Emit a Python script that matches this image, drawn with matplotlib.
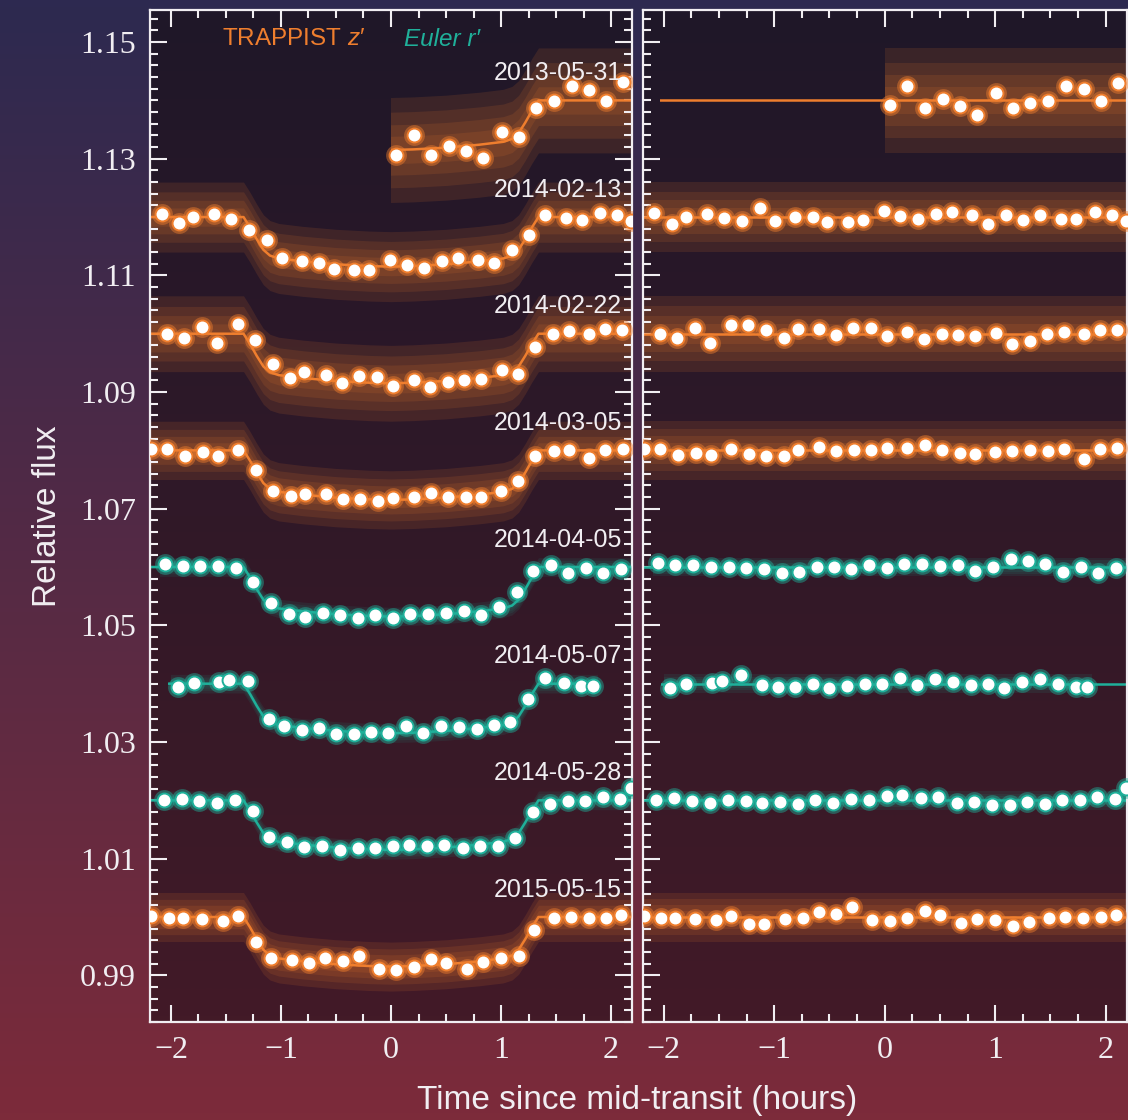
"""
WASP transit light curves: raw/binned fluxes (left) and residuals (right).
"""
import numpy as np
import matplotlib.pyplot as plt
from matplotlib.colors import LinearSegmentedColormap
from matplotlib.patches import Rectangle
from matplotlib.ticker import MultipleLocator, FixedLocator, FormatStrFormatter

#=== Style ===
plt.rcParams['mathtext.fontset'] = 'custom'
plt.rcParams['mathtext.rm'] = 'Liberation Sans'
plt.rcParams['mathtext.it'] = 'Liberation Sans:italic'

ORANGE = '#ef7e2e'
TEAL = '#1fb09a'
TEAL_RAW = '#1f8f7d'
FG = '#f1eef2'

#=== Data: one night per row, binned points ===
DATES = ["2013-05-31", "2014-02-13", "2014-02-22", "2014-03-05",
         "2014-04-05", "2014-05-07", "2014-05-28", "2015-05-15"]
BASELINES = [1.14, 1.12, 1.10, 1.08, 1.06, 1.04, 1.02, 1.00]
INSTRUMENT = ["T", "T", "T", "T", "E", "E", "E", "T"]   # T = TRAPPIST z', E = Euler r'

# time range covered by the raw photometry (hours)
RAW_SPAN = [(0.0, 2.3), (-2.3, 2.3), (-2.3, 2.3), (-2.3, 2.3),
            (-2.1, 2.3), (-2.0, 1.87), (-2.1, 2.3), (-2.3, 2.3)]
# spread of the raw points around the model (core, outer), in ppt
RAW_SPREAD = [(4.5, 9.0), (3.0, 6.0), (3.0, 6.5), (2.5, 5.0),
              (0.8, 1.6), (0.8, 1.6), (0.8, 1.6), (2.0, 4.2)]
# where the model line is drawn, left and right panel
LINE_LEFT = [(0.0, 2.3), (-2.3, 2.3), (-2.3, 2.3), (-2.3, 2.3),
             (-2.3, 2.3), (-2.03, 1.88), (-2.3, 2.3), (-2.3, 2.3)]
LINE_RIGHT = [(-2.03, 2.3), (-2.3, 2.3), (-2.3, 2.3), (-2.3, 2.3),
              (-2.3, 2.3), (-2.02, 2.3), (-2.3, 2.3), (-2.3, 2.3)]

# transit model shape (dip below baseline, ppt)
MODEL_T = [-2.3, -1.34, -1.28, -1.22, -1.16, -1.10, -1.02, -0.8, -0.5, -0.2, 0.0,
           0.2, 0.5, 0.8, 1.02, 1.10, 1.16, 1.22, 1.28, 1.34, 2.3]
MODEL_DIP = [0.0, 0.0, -1.8, -3.8, -5.6, -6.6, -7.1, -7.6, -8.1, -8.4, -8.5,
             -8.4, -8.1, -7.6, -7.1, -6.6, -5.6, -3.8, -1.8, 0.0, 0.0]

# 2013-05-31
t_130531 = [0.045, 0.206, 0.364, 0.530, 0.682, 0.833, 1.006, 1.161, 1.318, 1.479, 1.642, 1.803, 1.955, 2.112]
f_130531 = [1.1307, 1.1340, 1.1306, 1.1322, 1.1313, 1.1302, 1.1346, 1.1338, 1.1387, 1.1399, 1.1425, 1.1418, 1.1399, 1.1431]
r_130531 = [-0.86, 2.40, -1.26, 0.29, -0.97, -2.57, 1.26, -1.26, -0.40, -0.06, 2.46, 1.89, -0.11, 3.03]

# 2014-02-13
t_140213 = [-2.085, -1.924, -1.797, -1.606, -1.455, -1.294, -1.130, -0.991, -0.809, -0.652, -0.521, -0.333, -0.197, -0.006,
            0.142, 0.303, 0.461, 0.606, 0.794, 0.939, 1.097, 1.252, 1.403, 1.591, 1.733, 1.900, 2.055, 2.182]
f_140213 = [1.1206, 1.1189, 1.1200, 1.1205, 1.1197, 1.1177, 1.1161, 1.1129, 1.1125, 1.1122, 1.1111, 1.1109, 1.1110, 1.1126,
            1.1117, 1.1113, 1.1124, 1.1129, 1.1127, 1.1121, 1.1143, 1.1170, 1.1203, 1.1199, 1.1195, 1.1207, 1.1203, 1.1193]
r_140213 = [0.74, -1.14, 0.0, 0.57, -0.17, -0.74, 1.54, -0.69, -0.06, -0.06, -0.86, -0.86, -0.57, 1.03,
            0.11, -0.29, 0.57, 0.80, 0.29, -1.14, 0.29, -0.57, 0.40, -0.29, -0.40, 0.86, 0.40, -0.74]

# 2014-02-22
t_140222 = [-2.036, -1.879, -1.721, -1.582, -1.394, -1.233, -1.076, -0.915, -0.788, -0.591, -0.445, -0.288, -0.127, 0.021,
            0.206, 0.355, 0.515, 0.667, 0.818, 1.006, 1.152, 1.312, 1.470, 1.621, 1.803, 1.945, 2.100]
f_140222 = [1.1000, 1.0993, 1.1011, 1.0984, 1.1017, 1.0989, 1.0948, 1.0924, 1.0934, 1.0930, 1.0915, 1.0927, 1.0925, 1.0911,
            1.0920, 1.0908, 1.0918, 1.0920, 1.0922, 1.0937, 1.0931, 1.0978, 1.1000, 1.1004, 1.0999, 1.1008, 1.1006]
r_140222 = [0.0, -0.74, 0.97, -1.60, 1.54, 1.54, 0.69, -0.74, 0.86, 0.74, -0.29, 0.97, 0.97, -0.46,
            0.29, -0.97, -0.11, -0.17, -0.46, 0.17, -1.77, -1.20, 0.0, 0.29, -0.11, 0.57, 0.57]

# 2014-03-05
t_140305 = [-2.180, -2.036, -1.870, -1.712, -1.576, -1.388, -1.227, -1.070, -0.909, -0.782, -0.591, -0.439, -0.279, -0.121,
            0.021, 0.206, 0.364, 0.521, 0.682, 0.818, 1.000, 1.152, 1.312, 1.479, 1.621, 1.803, 1.948, 2.106]
f_140305 = [1.0803, 1.0802, 1.0791, 1.0797, 1.0791, 1.0801, 1.0767, 1.0730, 1.0722, 1.0726, 1.0725, 1.0717, 1.0717, 1.0714,
            1.0719, 1.0720, 1.0727, 1.0720, 1.0720, 1.0720, 1.0731, 1.0747, 1.0790, 1.0799, 1.0800, 1.0787, 1.0800, 1.0803]
r_140305 = [0.30, 0.17, -0.86, -0.40, -0.86, 0.17, -0.57, -0.97, -0.97, 0.0, 0.57, -0.17, 0.11, 0.0,
            0.40, 0.40, 0.97, 0.0, -0.40, -0.69, -0.29, -0.17, 0.11, -0.17, 0.17, -1.43, 0.17, 0.40]

# 2014-04-05
t_140405 = [-2.055, -1.894, -1.733, -1.570, -1.409, -1.252, -1.091, -0.930, -0.779, -0.615, -0.461, -0.303, -0.142, 0.021,
            0.176, 0.339, 0.500, 0.661, 0.818, 0.979, 1.142, 1.294, 1.455, 1.612, 1.773, 1.930, 2.091]
f_140405 = [1.0605, 1.0602, 1.0602, 1.0601, 1.0599, 1.0575, 1.0538, 1.0519, 1.0515, 1.0521, 1.0518, 1.0513, 1.0517, 1.0513,
            1.0519, 1.0519, 1.0521, 1.0525, 1.0518, 1.0531, 1.0557, 1.0593, 1.0603, 1.0590, 1.0599, 1.0590, 1.0597]
r_140405 = [0.63, 0.34, 0.29, 0.06, 0.0, -0.11, -0.29, -1.09, -0.80, 0.06, 0.06, -0.40, 0.29, -0.23,
            0.57, 0.46, 0.17, 0.34, -0.69, 0.0, 1.31, 1.03, 0.46, -0.86, 0.06, -0.97, -0.11]

# 2014-05-07
t_140507 = [-1.939, -1.794, -1.567, -1.470, -1.303, -1.106, -0.970, -0.812, -0.652, -0.500, -0.339, -0.182, -0.024,
            0.136, 0.294, 0.455, 0.621, 0.782, 0.933, 1.082, 1.242, 1.403, 1.570, 1.727, 1.833]
f_140507 = [1.0395, 1.0401, 1.0403, 1.0406, 1.0404, 1.0339, 1.0327, 1.0321, 1.0324, 1.0313, 1.0314, 1.0317, 1.0316,
            1.0327, 1.0316, 1.0327, 1.0326, 1.0323, 1.0330, 1.0334, 1.0374, 1.0409, 1.0401, 1.0396, 1.0396]
r_140507 = [-0.69, 0.0, 0.17, 0.46, 1.49, -0.29, -0.57, -0.57, 0.0, -0.80, -0.40, -0.11, -0.11,
            1.03, -0.23, 0.74, 0.29, -0.29, -0.11, -0.69, 0.29, 0.74, 0.0, -0.51, -0.57]

# 2014-05-28
t_140528 = [-2.067, -1.903, -1.742, -1.582, -1.418, -1.258, -1.106, -0.948, -0.788, -0.630, -0.464, -0.303, -0.142, 0.021,
            0.161, 0.324, 0.485, 0.652, 0.809, 0.970, 1.130, 1.288, 1.448, 1.606, 1.764, 1.924, 2.082, 2.182]
f_140528 = [1.0201, 1.0203, 1.0199, 1.0196, 1.0200, 1.0181, 1.0138, 1.0129, 1.0120, 1.0122, 1.0115, 1.0119, 1.0118, 1.0122,
            1.0123, 1.0121, 1.0123, 1.0118, 1.0122, 1.0122, 1.0136, 1.0180, 1.0194, 1.0199, 1.0199, 1.0205, 1.0202, 1.0221]
r_140528 = [0.06, 0.46, -0.11, -0.51, 0.06, -0.11, -0.51, -0.29, -0.57, 0.0, -0.40, 0.17, 0.06, 0.74,
            0.86, 0.46, 0.57, -0.40, -0.29, -0.86, -0.80, -0.23, -0.57, 0.0, 0.0, 0.57, 0.29, 2.06]

# 2015-05-15
t_150515 = [-2.182, -2.021, -1.894, -1.718, -1.530, -1.388, -1.227, -1.091, -0.903, -0.742, -0.597, -0.439, -0.294, -0.112,
            0.045, 0.206, 0.364, 0.500, 0.688, 0.839, 1.000, 1.161, 1.303, 1.485, 1.636, 1.797, 1.955, 2.091]
f_150515 = [1.0001, 0.9998, 0.9998, 0.9997, 0.9994, 1.0001, 0.9957, 0.9930, 0.9926, 0.9922, 0.9930, 0.9924, 0.9934, 0.9911,
            0.9910, 0.9914, 0.9928, 0.9922, 0.9911, 0.9923, 0.9930, 0.9934, 0.9978, 0.9998, 1.0000, 0.9998, 0.9998, 1.0003]
r_150515 = [0.11, -0.17, -0.17, -0.34, -0.57, 0.23, -1.14, -1.14, -0.29, -0.17, 0.86, 0.57, 1.71, -0.57,
            -0.63, -0.17, 0.97, 0.29, -1.03, -0.34, -0.46, -1.60, -0.91, -0.17, 0.0, -0.17, -0.06, 0.29]

TIMES = [t_130531, t_140213, t_140222, t_140305, t_140405, t_140507, t_140528, t_150515]
FLUX = [f_130531, f_140213, f_140222, f_140305, f_140405, f_140507, f_140528, f_150515]
RESID = [r_130531, r_140213, r_140222, r_140305, r_140405, r_140507, r_140528, r_150515]

XLIM = (-2.19, 2.19)
YLIM = (0.982, 1.1555)


#=== Helpers ===
def span_clip(ax, span):
    # clip to the time span, but never past the axes edges
    x0, x1 = max(span[0], XLIM[0]), min(span[1], XLIM[1])
    return Rectangle((x0, YLIM[0]), x1 - x0, YLIM[1] - YLIM[0], transform=ax.transData)


def draw_band(ax, x, y, spread, color, span):
    # soft cloud standing in for the unbinned photometry
    for frac in (1.0, 0.72, 0.48, 0.26):
        w = spread[1] * frac / 1000
        p = ax.fill_between(x, y - w, y + w, color=color, alpha=0.13, lw=0, zorder=1)
        p.set_clip_path(span_clip(ax, span))


def draw_line(ax, x, y, color, span):
    ln, = ax.plot(x, y, color=color, lw=1.8, zorder=2, solid_capstyle='butt')
    ln.set_clip_path(span_clip(ax, span))


def draw_bins(ax, t, f, color):
    ax.plot(t, f, 'o', ms=15, color=color, alpha=0.45, mew=0, zorder=3)
    ax.plot(t, f, 'o', ms=10, mfc='white', mec=color, mew=1.4, zorder=4)


def gradient_axes(fig, rect, top, bottom, zorder):
    bg = fig.add_axes(rect, zorder=zorder)
    cmap = LinearSegmentedColormap.from_list("g", [bottom, top])
    bg.imshow(np.linspace(0, 1, 256)[::-1, None], cmap=cmap, aspect='auto',
              extent=[0, 1, 0, 1], interpolation='bilinear')
    bg.set_axis_off()
    return bg


#=== Figure ===
W, H = 1128, 1120
fig = plt.figure(figsize=(W / 100, H / 100), dpi=100)
gradient_axes(fig, [0, 0, 1, 1], '#2d2950', '#7c2b3a', -3)

ax_b, ax_h = (H - 1022) / H, 1012 / H
rect_l = [150 / W, ax_b, 482 / W, ax_h]
rect_r = [642.7 / W, ax_b, 484 / W, ax_h]
gradient_axes(fig, rect_l, '#1f1729', '#421a27', -2)
gradient_axes(fig, rect_r, '#1f1729', '#421a27', -2)

ax_l = fig.add_axes(rect_l)
ax_r = fig.add_axes(rect_r)

mt = np.array(MODEL_T)
mdip = np.array(MODEL_DIP) / 1000

for i, date in enumerate(DATES):
    base = BASELINES[i]
    col = ORANGE if INSTRUMENT[i] == "T" else TEAL
    raw_col = ORANGE if INSTRUMENT[i] == "T" else TEAL_RAW
    t = np.array(TIMES[i])
    model = base + mdip

    # left: photometry with transit model
    draw_band(ax_l, mt, model, RAW_SPREAD[i], raw_col, RAW_SPAN[i])
    draw_line(ax_l, mt, model, col, LINE_LEFT[i])
    draw_bins(ax_l, t, FLUX[i], col)
    ax_l.text(2.1, base + 0.0047, date, ha='right', va='center', color=FG,
              fontsize=18, family='Liberation Sans', zorder=6)

    # right: residuals around the baseline
    flat = np.full_like(mt, base)
    draw_band(ax_r, mt, flat, RAW_SPREAD[i], raw_col, RAW_SPAN[i])
    draw_line(ax_r, mt, flat, col, LINE_RIGHT[i])
    draw_bins(ax_r, t, base + np.array(RESID[i]) / 1000, col)

for ax in (ax_l, ax_r):
    ax.set_facecolor('none')
    ax.set_xlim(*XLIM)
    ax.set_ylim(*YLIM)
    ax.xaxis.set_major_locator(MultipleLocator(1))
    ax.xaxis.set_minor_locator(MultipleLocator(0.25))
    ax.yaxis.set_major_locator(FixedLocator([0.99, 1.01, 1.03, 1.05, 1.07, 1.09, 1.11, 1.13, 1.15]))
    ax.yaxis.set_minor_locator(MultipleLocator(0.002))
    ax.yaxis.set_major_formatter(FormatStrFormatter('%.2f'))
    ax.tick_params(which='both', direction='in', top=True, right=True, color=FG,
                   labelcolor=FG, width=1.5, labelsize=23)
    ax.tick_params(which='major', length=12, pad=10)
    ax.tick_params(which='minor', length=6)
    for s in ax.spines.values():
        s.set_color(FG)
        s.set_linewidth(1.6)
    for lab in ax.get_xticklabels() + ax.get_yticklabels():
        lab.set_family('Liberation Serif')

ax_r.tick_params(which='both', labelleft=False, right=False)

ax_l.set_ylabel("Relative flux", color=FG, fontsize=24, family='Liberation Sans', labelpad=12)
fig.text(637 / W, 1 - 1100 / H, "Time since mid-transit (hours)", ha='center', va='center',
         color=FG, fontsize=24, family='Liberation Sans')

leg_font = ['Liberation Sans', 'DejaVu Sans']
ax_l.text(0.149, 0.971, "TRAPPIST $z$\u2032", transform=ax_l.transAxes, color=ORANGE,
          fontsize=17.5, family=leg_font, ha='left', va='center', zorder=6)
ax_l.text(0.527, 0.971, "Euler r\u2032", transform=ax_l.transAxes, color=TEAL, style='italic',
          fontsize=17.5, family=leg_font, ha='left', va='center', zorder=6)

fig.savefig("out.png", dpi=100)
